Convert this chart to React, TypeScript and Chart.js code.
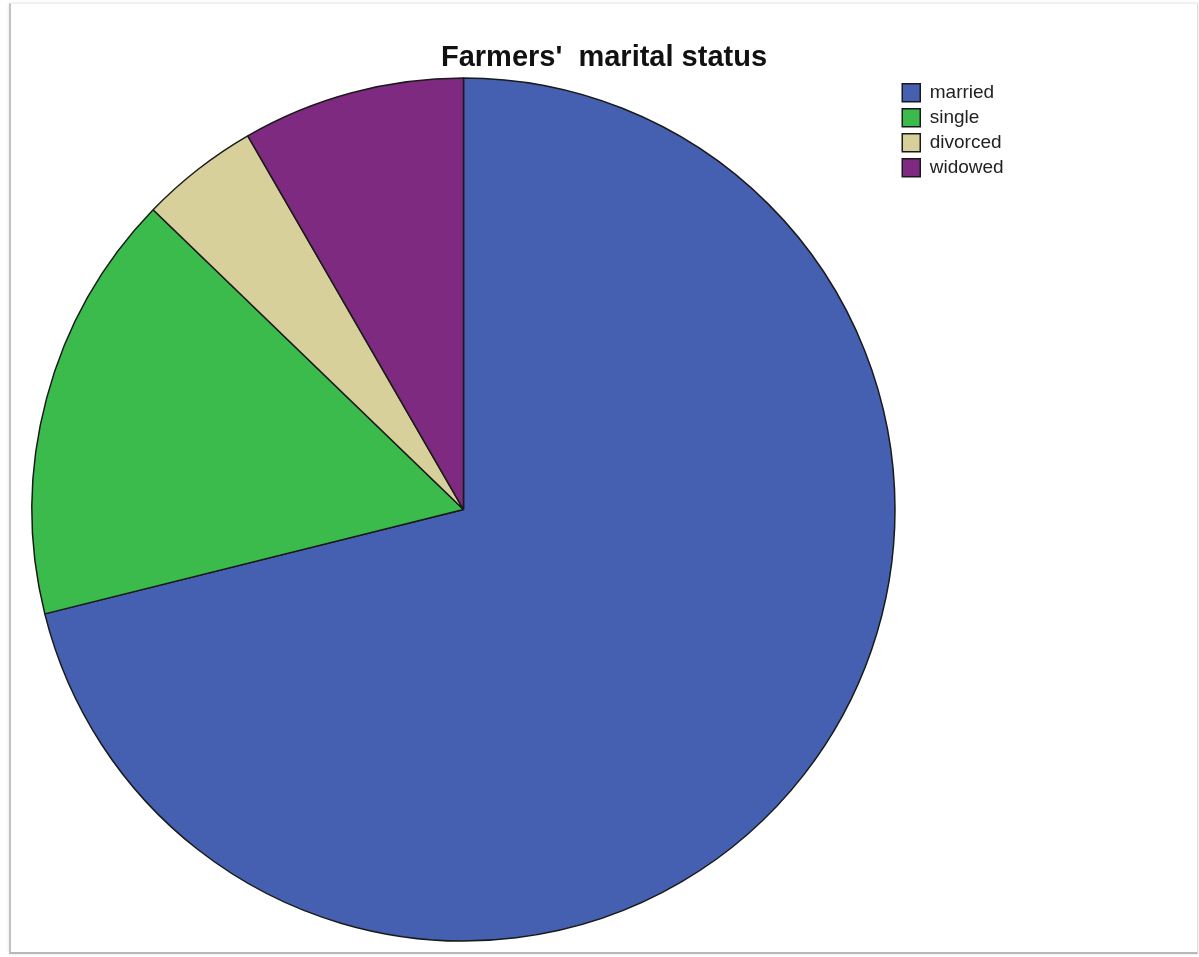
import React, { useEffect, useRef } from "react";
import { Chart, registerables } from "chart.js";

Chart.register(...registerables);

const categories = ["married", "single", "divorced", "widowed"];
const counts = [128, 29, 8, 15];
const sliceColors = ["#4560B0", "#3BBB4B", "#D8D09A", "#7E2A80"];
const chartTitle = "Farmers'  marital status";

const FONT_FAMILY = "'Liberation Sans', Arial, sans-serif";
const LEGEND_FONT_SIZE = 19;
const LEGEND_BOX = 18;
const LEGEND_PAD = 6;

export default function App() {
  const canvasRef = useRef<HTMLCanvasElement | null>(null);

  useEffect(() => {
    if (!canvasRef.current) return;
    const ctx = canvasRef.current.getContext("2d");
    let maxText = 80;
    if (ctx) {
      ctx.font = `${LEGEND_FONT_SIZE}px ${FONT_FAMILY}`;
      maxText = Math.max(...categories.map((c) => ctx.measureText(c).width));
    }
    // legend natural width in Chart.js: padding + box + fontSize/2 + text + 10
    const legendW = LEGEND_PAD + LEGEND_BOX + LEGEND_FONT_SIZE / 2 + maxText + 10;
    const chartRight = 895.25;
    const rightPad = 1199 - chartRight - legendW - 1;

    const chart = new Chart(canvasRef.current, {
      type: "pie",
      data: {
        labels: categories,
        datasets: [
          {
            data: counts,
            backgroundColor: sliceColors,
            borderColor: "#1a1a1a",
            borderWidth: 1.5,
          },
        ],
      },
      options: {
        responsive: false,
        animation: false,
        events: [],
        layout: {
          padding: { left: 30.75, top: 77.25, right: rightPad, bottom: 15.25 },
        },
        plugins: {
          title: { display: false },
          tooltip: { enabled: false },
          legend: {
            display: true,
            position: "right",
            align: "start",
            maxWidth: legendW + 1,
            labels: {
              boxWidth: LEGEND_BOX,
              boxHeight: LEGEND_BOX,
              padding: LEGEND_PAD,
              color: "#222222",
              font: { family: FONT_FAMILY, size: LEGEND_FONT_SIZE },
            },
          },
        },
      },
    });
    return () => chart.destroy();
  }, []);

  return (
    <div
      style={{
        position: "fixed",
        left: 0,
        top: 0,
        width: 1199,
        height: 957,
        background: "#ffffff",
        overflow: "hidden",
      }}
    >
      <div
        style={{
          position: "absolute",
          left: 9,
          top: 3,
          width: 1186,
          height: 948,
          borderLeft: "2px solid #c2c2c2",
          borderBottom: "2px solid #b8b8b8",
          borderRight: "1px solid #dddddd",
          borderTop: "1px solid #eeeeee",
          boxShadow: "0 0 3px rgba(0,0,0,0.12)",
        }}
      />
      <canvas
        ref={canvasRef}
        width={1199}
        height={957}
        style={{ position: "absolute", left: 0, top: 0 }}
      />
      <div
        style={{
          position: "absolute",
          left: 304,
          width: 600,
          top: 40,
          textAlign: "center",
          fontFamily: FONT_FAMILY,
          fontWeight: "bold",
          fontSize: 29,
          lineHeight: "32px",
          color: "#111111",
          whiteSpace: "pre",
        }}
      >
        {chartTitle}
      </div>
    </div>
  );
}
